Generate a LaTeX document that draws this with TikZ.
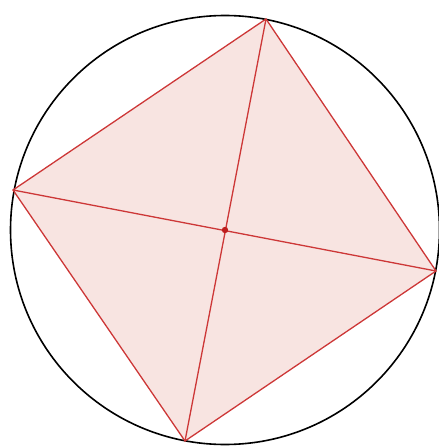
\documentclass[tikz,border=0pt]{standalone}
\definecolor{sqred}{RGB}{205,55,55}
\definecolor{dotred}{RGB}{190,30,30}
\definecolor{sqfill}{RGB}{248,228,225}
\begin{document}
\begin{tikzpicture}[x=1pt,y=-1pt,
  edge/.style={draw=sqred,line width=1.3pt},
  rim/.style={draw=black,line width=1.6pt}]
\useasboundingbox (0,0) rectangle (438,446);
\coordinate (O) at (225,230);
\coordinate (T) at (266,19);
\coordinate (R) at (436,271);
\coordinate (B) at (185,441);
\coordinate (L) at (13,190);
\fill[sqfill] (T) -- (R) -- (B) -- (L) -- cycle;
\draw[rim] (O) circle[radius=214.5];
\draw[edge] (T) -- (R) -- (B) -- (L) -- cycle;
\draw[edge] (T) -- (B);
\draw[edge] (L) -- (R);
\fill[dotred] (O) circle[radius=3.2];
\end{tikzpicture}
\end{document}
